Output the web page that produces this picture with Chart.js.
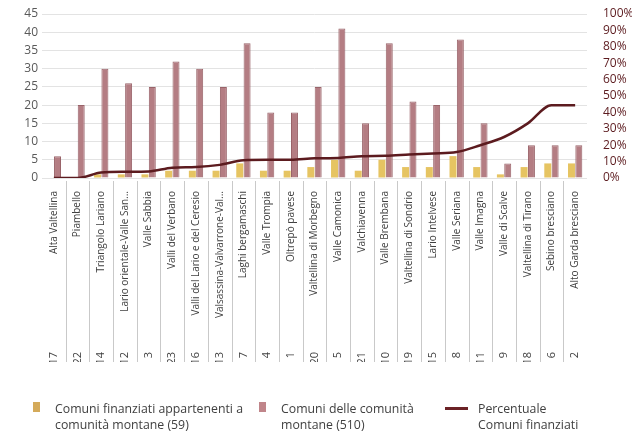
<!DOCTYPE html>
<html>
<head>
<meta charset="utf-8">
<script src="https://cdn.jsdelivr.net/npm/chart.js@4.4.1/dist/chart.umd.min.js"></script>
<style>
  body { margin: 0; background: #fff; }
  #wrap { position: relative; width: 632px; height: 435px; }
  #legend { font-family: "Open Sans", sans-serif; font-size: 12.3px; color: #404040; }
  .item { position: absolute; top: 401px; line-height: 15.5px; }
  .box { position: absolute; top: 402px; width: 7px; height: 10px; }
  .line { position: absolute; top: 407px; width: 23px; height: 3px; }
</style>
</head>
<body>
<div id="wrap">
  <canvas id="chart" width="632" height="435"></canvas>
  <div id="legend">
    <span class="box" style="left:33px;background:#d4aa5a"></span>
    <div class="item" style="left:55px">Comuni finanziati appartenenti a<br>comunità montane (59)</div>
    <span class="box" style="left:259px;background:#c0858a"></span>
    <div class="item" style="left:281px">Comuni delle comunità<br>montane (510)</div>
    <span class="line" style="left:445px;background:#6b2226"></span>
    <div class="item" style="left:478px">Percentuale<br>Comuni finanziati</div>
  </div>
</div>
<script>
const regioni = [
  "Alta Valtellina", "Piambello", "Triangolo Lariano", "Lario orientale-Valle San...",
  "Valle Sabbia", "Valli del Verbano", "Valli del Lario e del Ceresio",
  "Valsassina-Valvarrone-Val...", "Laghi bergamaschi", "Valle Trompia", "Oltrepò pavese",
  "Valtellina di Morbegno", "Valle Camonica", "Valchiavenna", "Valle Brembana",
  "Valtellina di Sondrio", "Lario Intelvese", "Valle Seriana", "Valle Imagna",
  "Valle di Scalve", "Valtellina di Tirano", "Sebino bresciano", "Alto Garda bresciano"
];
const codici = ["17", "22", "14", "12", "3", "23", "16", "13", "7", "4", "1", "20", "5", "21", "10", "19", "15", "8", "11", "9", "18", "6", "2"];
const comuniFinanziati = [0, 0, 1, 1, 1, 2, 2, 2, 4, 2, 2, 3, 5, 2, 5, 3, 3, 6, 3, 1, 3, 4, 4];
const comuniMontane = [6, 20, 30, 26, 25, 32, 30, 25, 37, 18, 18, 25, 41, 15, 37, 21, 20, 38, 15, 4, 9, 9, 9];
const percentuale = [0, 0, 3.3, 3.8, 4, 6.3, 6.7, 8, 10.8, 11.1, 11.1, 12, 12.2, 13.3, 13.5, 14.3, 15, 15.8, 20, 25, 33.3, 44.4, 44.4];

const font = "Open Sans";

// linee verticali tra le categorie (etichette + codici)
const separatori = {
  id: "separatori",
  afterDraw(chart) {
    const x = chart.scales.x;
    const x2 = chart.scales.x2;
    const ctx = chart.ctx;
    ctx.save();
    ctx.strokeStyle = "#c9c9c9";
    ctx.lineWidth = 1;
    for (let i = 1; i < regioni.length; i++) {
      const px = Math.round((x.getPixelForTick(i - 1) + x.getPixelForTick(i)) / 2) + 0.5;
      ctx.beginPath();
      ctx.moveTo(px, x.top + 3);
      ctx.lineTo(px, x2.bottom);
      ctx.stroke();
    }
    ctx.restore();
  }
};

new Chart(document.querySelector("#chart"), {
  data: {
    labels: regioni,
    datasets: [
      {
        type: "line",
        label: "Percentuale Comuni finanziati",
        data: percentuale,
        yAxisID: "y1",
        borderColor: "#5c1b1f",
        borderWidth: 2.5,
        pointRadius: 0,
        cubicInterpolationMode: "monotone",
        order: 0,
      },
      {
        type: "bar",
        label: "Comuni finanziati appartenenti a comunità montane (59)",
        data: comuniFinanziati,
        backgroundColor: "#e6c462",
        categoryPercentage: 0.62,
        barPercentage: 0.95,
        order: 1,
      },
      {
        type: "bar",
        label: "Comuni delle comunità montane (510)",
        data: comuniMontane,
        backgroundColor: "#b47d83",
        borderColor: "#996369",
        borderWidth: 1,
        categoryPercentage: 0.62,
        barPercentage: 0.95,
        order: 1,
      },
    ],
  },
  options: {
    responsive: false,
    animation: false,
    layout: { padding: { left: 13, top: 14, right: 0, bottom: 73 } },
    plugins: { legend: { display: false }, tooltip: { enabled: false } },
    scales: {
      x: {
        offset: true,
        weight: 0,
        grid: { display: false },
        border: { display: false },
        ticks: { autoSkip: false, maxRotation: 90, minRotation: 90, padding: 5, color: "#404040", font: { family: font, size: 10 } },
        afterFit: (s) => { s.height = 160; },
      },
      x2: {
        type: "category",
        labels: codici,
        position: "bottom",
        offset: true,
        weight: 1,
        grid: { display: false },
        border: { display: false },
        ticks: { autoSkip: false, maxRotation: 90, minRotation: 90, padding: 6, color: "#404040", font: { family: font, size: 11 } },
        afterFit: (s) => { s.height = 24; },
      },
      y: {
        min: 0,
        max: 45,
        ticks: { stepSize: 5, autoSkip: false, padding: 4, color: "#595959", font: { family: font, size: 12 } },
        grid: { color: "#e3e3e3", drawTicks: false },
        border: { display: false },
        afterFit: (s) => { s.width = 29; },
      },
      y1: {
        position: "right",
        min: 0,
        max: 100,
        ticks: { stepSize: 10, autoSkip: false, padding: 3, color: "#5c1b1f", font: { family: font, size: 12 }, callback: (v) => v + "%" },
        grid: { drawOnChartArea: false, drawTicks: true, tickLength: 13, tickColor: "rgba(0,0,0,0)" },
        border: { display: false },
        afterFit: (s) => { s.width = 45; },
      },
    },
  },
  plugins: [separatori],
});
</script>
</body>
</html>
